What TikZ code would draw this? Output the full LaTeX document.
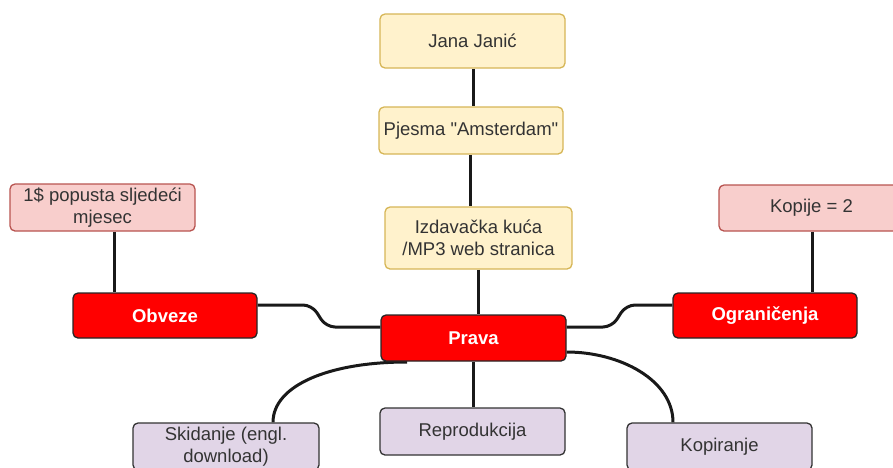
\documentclass[tikz,border=0pt]{standalone}
\usepackage{fontspec}
\setmainfont{Liberation Sans}[Ligatures=TeXOff]
\usetikzlibrary{backgrounds}
\definecolor{yfill}{HTML}{FFF2CC}
\definecolor{ydraw}{HTML}{D6B656}
\definecolor{pfill}{HTML}{F8CECC}
\definecolor{pdraw}{HTML}{B85450}
\definecolor{vfill}{HTML}{E1D5E7}
\definecolor{txt}{HTML}{333333}
\tikzset{
  box/.style={rectangle, rounded corners=5pt, line width=1.3pt, align=center,
    inner sep=0pt, font=\fontsize{18.5}{22.5}\selectfont, text=txt},
  ybox/.style={box, fill=yfill, draw=ydraw},
  pbox/.style={box, fill=pfill, draw=pdraw},
  rbox/.style={box, fill=red, draw=black!85, text=white, font=\fontsize{18.5}{22.5}\selectfont\bfseries},
  vbox/.style={box, fill=vfill, draw=black!80},
  link/.style={line width=3pt, draw=black!90}
}
\begin{document}
\begin{tikzpicture}[x=1pt,y=-1pt]
\useasboundingbox (0,0) rectangle (893,467);
\clip (0,0) rectangle (893,467);
\node[ybox, minimum width=185pt, minimum height=54pt] (jana) at (472.5,41) {Jana Janić};
\node[ybox, minimum width=184pt, minimum height=47pt] (pjesma) at (471,130.5) {Pjesma "Amsterdam"};
\node[ybox, minimum width=187pt, minimum height=62pt] (izd) at (478.5,238) {Izdavačka kuća\\/MP3 web stranica};
\node[rbox, minimum width=185pt, minimum height=46pt] (prava) at (473.5,338) {Prava};
\node[rbox, minimum width=184pt, minimum height=45pt] (obveze) at (165,315.5) {Obveze};
\node[rbox, minimum width=184pt, minimum height=45pt] (ogr) at (765,315.5) {Ograničenja};
\node[pbox, minimum width=185pt, minimum height=47pt] (popust) at (102.5,207.5) {1\$ popusta sljedeći\\mjesec};
\node[pbox, minimum width=185pt, minimum height=46pt] (kopije) at (811.5,208) {Kopije = 2};
\node[vbox, minimum width=186pt, minimum height=47pt] (skid) at (226,446.5) {Skidanje (engl.\\download)};
\node[vbox, minimum width=185pt, minimum height=47pt] (repro) at (472.5,431.5) {Reprodukcija};
\node[vbox, minimum width=185pt, minimum height=47pt] (kopir) at (719.5,446.5) {Kopiranje};

\coordinate (oa) at (obveze.east |- 0,305);
\coordinate (pa) at (prava.west |- 0,327);
\coordinate (pb) at (prava.east |- 0,327);
\coordinate (ga) at (ogr.west |- 0,305);
\coordinate (ps) at (407,362);
\coordinate (pk) at (prava.east |- 0,352);
\coordinate (st) at (skid.north -| 273,0);
\coordinate (kt) at (kopir.north -| 673,0);

\begin{pgfonlayer}{background}
\draw[link] (jana.south -| 473,0) -- (pjesma.north -| 473,0);
\draw[link] (pjesma.south -| 470,0) -- (izd.north -| 470,0);
\draw[link] (izd.south -| 478,0) -- (prava.north -| 478,0);
\draw[link] (popust.south -| 114,0) -- (obveze.north -| 114,0);
\draw[link] (kopije.south -| 812,0) -- (ogr.north -| 812,0);
\draw[link] (prava.south) -- (repro.north -| prava.south);
\draw[link, rounded corners=9pt] (oa) -- (312,305) -- (326,327) -- (pa);
\draw[link, rounded corners=9pt] (pb) -- (612,327) -- (626,305) -- (ga);
\draw[link] (ps) .. controls (330,362) and (273,385) .. (st);
\draw[link] (pk) .. controls (620,352) and (673,380) .. (kt);
\end{pgfonlayer}
\end{tikzpicture}
\end{document}
